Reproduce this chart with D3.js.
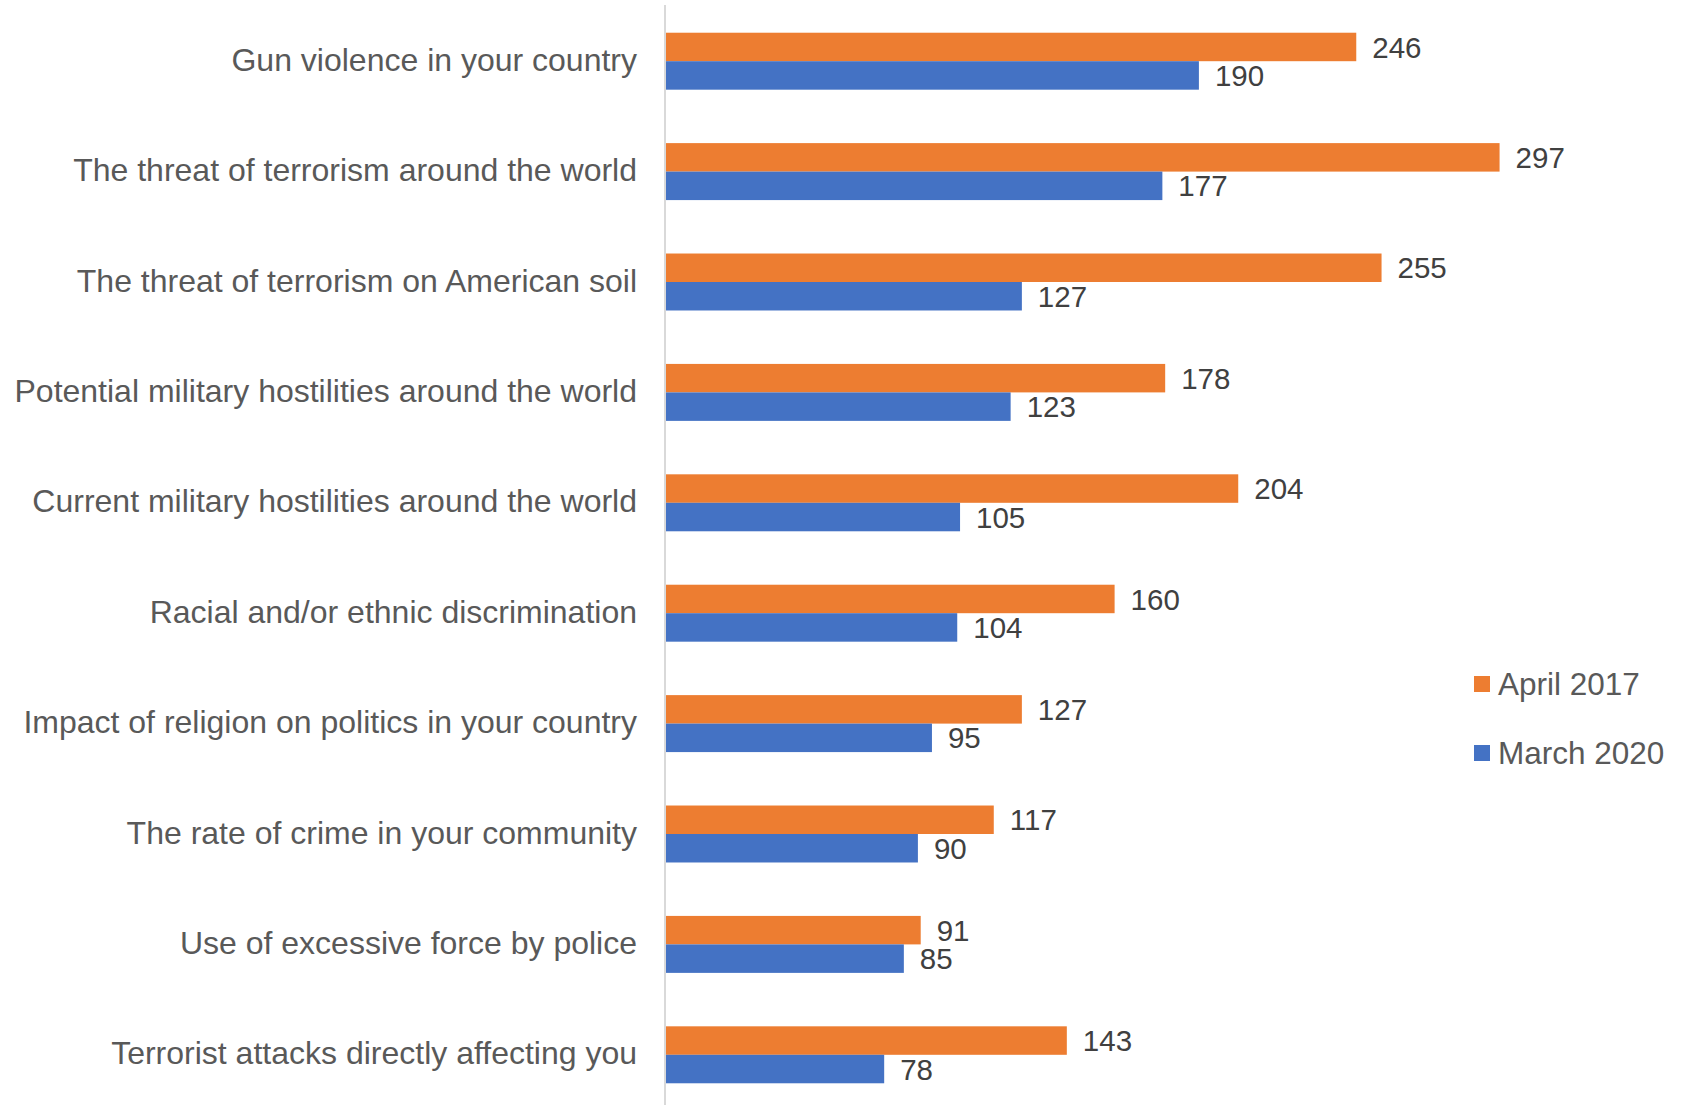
<!DOCTYPE html>
<html>
<head>
<meta charset="utf-8">
<script src="https://cdn.jsdelivr.net/npm/d3@7"></script>
<style>
  html, body { margin: 0; padding: 0; background: #fff; }
  svg { display: block; font-family: "Liberation Sans", Arial, sans-serif; }
</style>
</head>
<body>
<svg id="chart" width="1686" height="1105"></svg>
<script>
// Concern topics, listed top to bottom
const categories = [
  "Gun violence in your country",
  "The threat of terrorism around the world",
  "The threat of terrorism on American soil",
  "Potential military hostilities around the world",
  "Current military hostilities around the world",
  "Racial and/or ethnic discrimination",
  "Impact of religion on politics in your country",
  "The rate of crime in your community",
  "Use of excessive force by police",
  "Terrorist attacks directly affecting you"
];
const seriesNames = ["April 2017", "March 2020"];
const april2017 = [246, 297, 255, 178, 204, 160, 127, 117, 91, 143];
const march2020 = [190, 177, 127, 123, 105, 104, 95, 90, 85, 78];
const seriesColors = ["#ED7D31", "#4472C4"];

const svg = d3.select("#chart");
const axisX = 665;

const x = d3.scaleLinear().domain([0, 300]).range([axisX, axisX + 843]);
const y = d3.scaleBand().domain(categories).range([6, 1110]).paddingInner(0.484).paddingOuter(0.242);
const sub = d3.scaleBand().domain(seriesNames).range([0, y.bandwidth()]);

const rows = categories.map((c, i) => ({ cat: c, vals: [april2017[i], march2020[i]] }));

// Bars and value labels
const groups = svg.selectAll("g.row").data(rows).join("g")
  .attr("class", "row")
  .attr("transform", d => `translate(0,${y(d.cat)})`);

groups.selectAll("rect").data(d => d.vals.map((v, k) => ({ v, k })))
  .join("rect")
  .attr("x", x(0))
  .attr("y", d => sub(seriesNames[d.k]))
  .attr("width", d => x(d.v) - x(0))
  .attr("height", sub.bandwidth())
  .attr("fill", d => seriesColors[d.k]);

groups.selectAll("text.val").data(d => d.vals.map((v, k) => ({ v, k })))
  .join("text")
  .attr("class", "val")
  .attr("x", d => x(d.v) + 16)
  .attr("y", d => sub(seriesNames[d.k]) + sub.bandwidth() / 2)
  .attr("dy", "0.36em")
  .attr("font-size", 29.5)
  .attr("fill", "#404040")
  .text(d => d.v);

// Category axis
const yAxis = d3.axisLeft(y).tickSize(0).tickPadding(28);
const ga = svg.append("g").attr("transform", `translate(${axisX},0)`).call(yAxis);
ga.select(".domain").remove();
ga.selectAll("text")
  .attr("font-size", 32)
  .attr("font-family", "'Liberation Sans', Arial, sans-serif")
  .attr("fill", "#595959")
  .attr("dy", "0.3em");

svg.append("line")
  .attr("x1", axisX).attr("x2", axisX)
  .attr("y1", 5).attr("y2", 1105)
  .attr("stroke", "#D9D9D9").attr("stroke-width", 2);

// Legend
const legend = svg.append("g").attr("transform", "translate(1474,0)");
const legendY = [684, 753];
seriesNames.forEach((name, k) => {
  legend.append("rect")
    .attr("x", 0).attr("y", legendY[k] - 8)
    .attr("width", 16).attr("height", 16)
    .attr("fill", seriesColors[k]);
  legend.append("text")
    .attr("x", 24).attr("y", legendY[k])
    .attr("dy", "0.36em")
    .attr("font-size", 31.5)
    .attr("fill", "#595959")
    .text(name);
});
</script>
</body>
</html>
